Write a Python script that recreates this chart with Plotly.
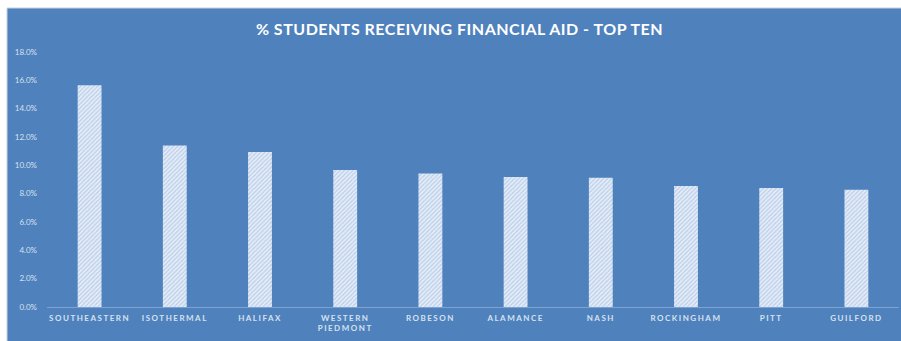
import plotly.graph_objects as go

colleges = ["SOUTHEASTERN", "ISOTHERMAL", "HALIFAX", "WESTERN<br>PIEDMONT", "ROBESON",
            "ALAMANCE", "NASH", "ROCKINGHAM", "PITT", "GUILFORD"]
pct_aid = [0.1565, 0.1140, 0.1095, 0.0967, 0.0943, 0.0918, 0.0913, 0.0854, 0.0840, 0.0828]
y_ticks = [0, 0.02, 0.04, 0.06, 0.08, 0.10, 0.12, 0.14, 0.16, 0.18]

BG = "#4f81bd"
LABEL = "#d6e1ef"

fig = go.Figure(go.Bar(
    x=colleges, y=pct_aid,
    width=0.28,
    marker=dict(
        color="#dce6f2",
        line=dict(width=0),
        pattern=dict(shape="/", fgcolor="#93b1dc", bgcolor="#e6eef8",
                     size=3, solidity=0.45, fillmode="overlay"),
    ),
))

W, H = 901, 341
L, R, T, B = 47, 2, 52, 34
pw, ph = W - L - R, H - T - B

def px_x(p):
    return (p - L) / pw

def px_y(p):
    return (H - B - p) / ph

fig.update_layout(
    width=W, height=H,
    margin=dict(l=L, r=R, t=T, b=B, pad=0),
    paper_bgcolor=BG, plot_bgcolor=BG,
    showlegend=False,
    title=dict(text="% STUDENTS RECEIVING FINANCIAL AID - TOP TEN",
               font=dict(family="Lato", size=16, color="white", weight="bold"),
               x=0.51, xref="container", xanchor="center",
               y=1 - 29 / H, yref="container", yanchor="middle"),
    xaxis=dict(showgrid=False, showline=True, linecolor="#7fa2d1", linewidth=1,
               ticks="", ticklabelstandoff=3,
               tickfont=dict(family="Lato", size=8, color=LABEL, weight="bold"),
               zeroline=False),
    yaxis=dict(range=[0, 0.18], tickvals=y_ticks, tickformat=".1%",
               showgrid=False, showline=False, zeroline=False, ticks="",
               ticklabelstandoff=9,
               tickfont=dict(family="Lato", size=8, color=LABEL)),
    shapes=[
        dict(type="rect", xref="paper", yref="paper", layer="above",
             x0=px_x(-5), x1=px_x(7), y0=px_y(H + 5), y1=px_y(-5),
             fillcolor="white", line=dict(width=0)),
        dict(type="rect", xref="paper", yref="paper", layer="above",
             x0=px_x(-5), x1=px_x(W + 5), y0=px_y(8), y1=px_y(-5),
             fillcolor="white", line=dict(width=0)),
        dict(type="line", xref="paper", yref="paper", layer="above",
             x0=px_x(7), x1=px_x(W + 5), y0=px_y(8), y1=px_y(8),
             line=dict(color="#c8d3e0", width=1)),
        dict(type="line", xref="paper", yref="paper", layer="above",
             x0=px_x(7), x1=px_x(7), y0=px_y(8), y1=px_y(H + 5),
             line=dict(color="#c8d3e0", width=1)),
    ],
)

post = """
var s = document.createElement('style');
s.innerHTML = '.xtick text { letter-spacing: 1.5px; } .gtitle { letter-spacing: 0.5px; }';
document.head.appendChild(s);
"""

fig.write_html("out.html", post_script=post)
